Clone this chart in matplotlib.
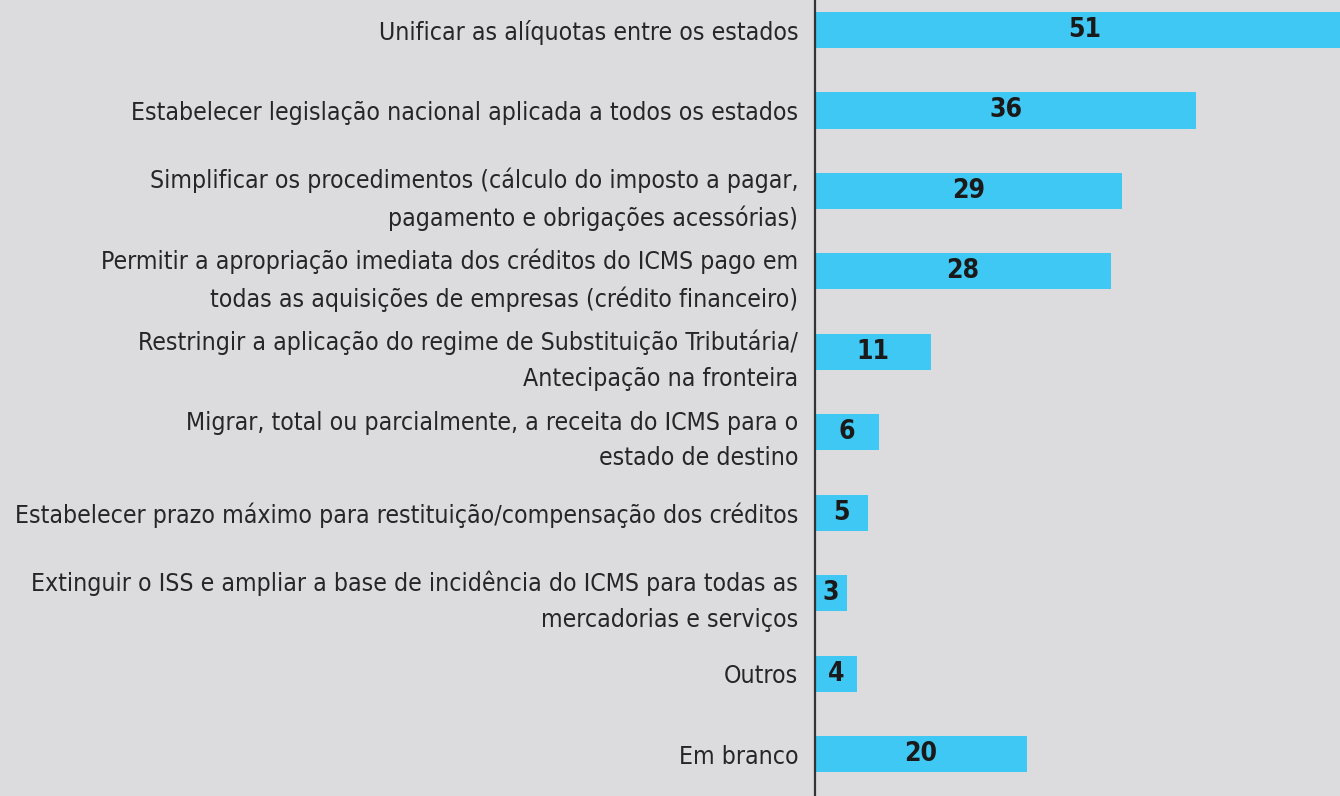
import matplotlib
matplotlib.use("Agg")
import matplotlib.pyplot as plt

# respostas (em ordem de cima para baixo)
labels = [
    "Unificar as alíquotas entre os estados",
    "Estabelecer legislação nacional aplicada a todos os estados",
    "Simplificar os procedimentos (cálculo do imposto a pagar,\npagamento e obrigações acessórias)",
    "Permitir a apropriação imediata dos créditos do ICMS pago em\ntodas as aquisições de empresas (crédito financeiro)",
    "Restringir a aplicação do regime de Substituição Tributária/\nAntecipação na fronteira",
    "Migrar, total ou parcialmente, a receita do ICMS para o\nestado de destino",
    "Estabelecer prazo máximo para restituição/compensação dos créditos",
    "Extinguir o ISS e ampliar a base de incidência do ICMS para todas as\nmercadorias e serviços",
    "Outros",
    "Em branco",
]
values = [51, 36, 29, 28, 11, 6, 5, 3, 4, 20]

BG = "#dcdcde"
BAR = "#40c8f4"
TXT = "#262626"

plt.rcParams['font.family'] = ['DejaVu Sans']
plt.rcParams['font.stretch'] = 'condensed'

fig = plt.figure(figsize=(13.4, 7.96), dpi=100, facecolor=BG)
ax = fig.add_axes([815 / 1340, 0, 1 - 815 / 1340, 1])
ax.set_facecolor(BG)

pos = list(range(len(values)))
ax.barh(pos, values, height=0.45, color=BAR)
ax.set_xlim(0, 49.6)
ax.set_ylim(9.52, -0.373)

for y, v in zip(pos, values):
    ax.text(v / 2, y, str(v), ha="center", va="center", fontsize=19,
            fontweight="bold", color="#1a1a1a")

ax.set_yticks(pos)
ax.set_yticklabels(labels, fontsize=17.8, color=TXT, linespacing=1.6)
ax.tick_params(axis="y", length=0, pad=12)
ax.set_xticks([])

for s in ["top", "right", "bottom"]:
    ax.spines[s].set_visible(False)
ax.spines["left"].set_color("#333333")
ax.spines["left"].set_linewidth(1.6)

fig.savefig("out.png", facecolor=BG)
